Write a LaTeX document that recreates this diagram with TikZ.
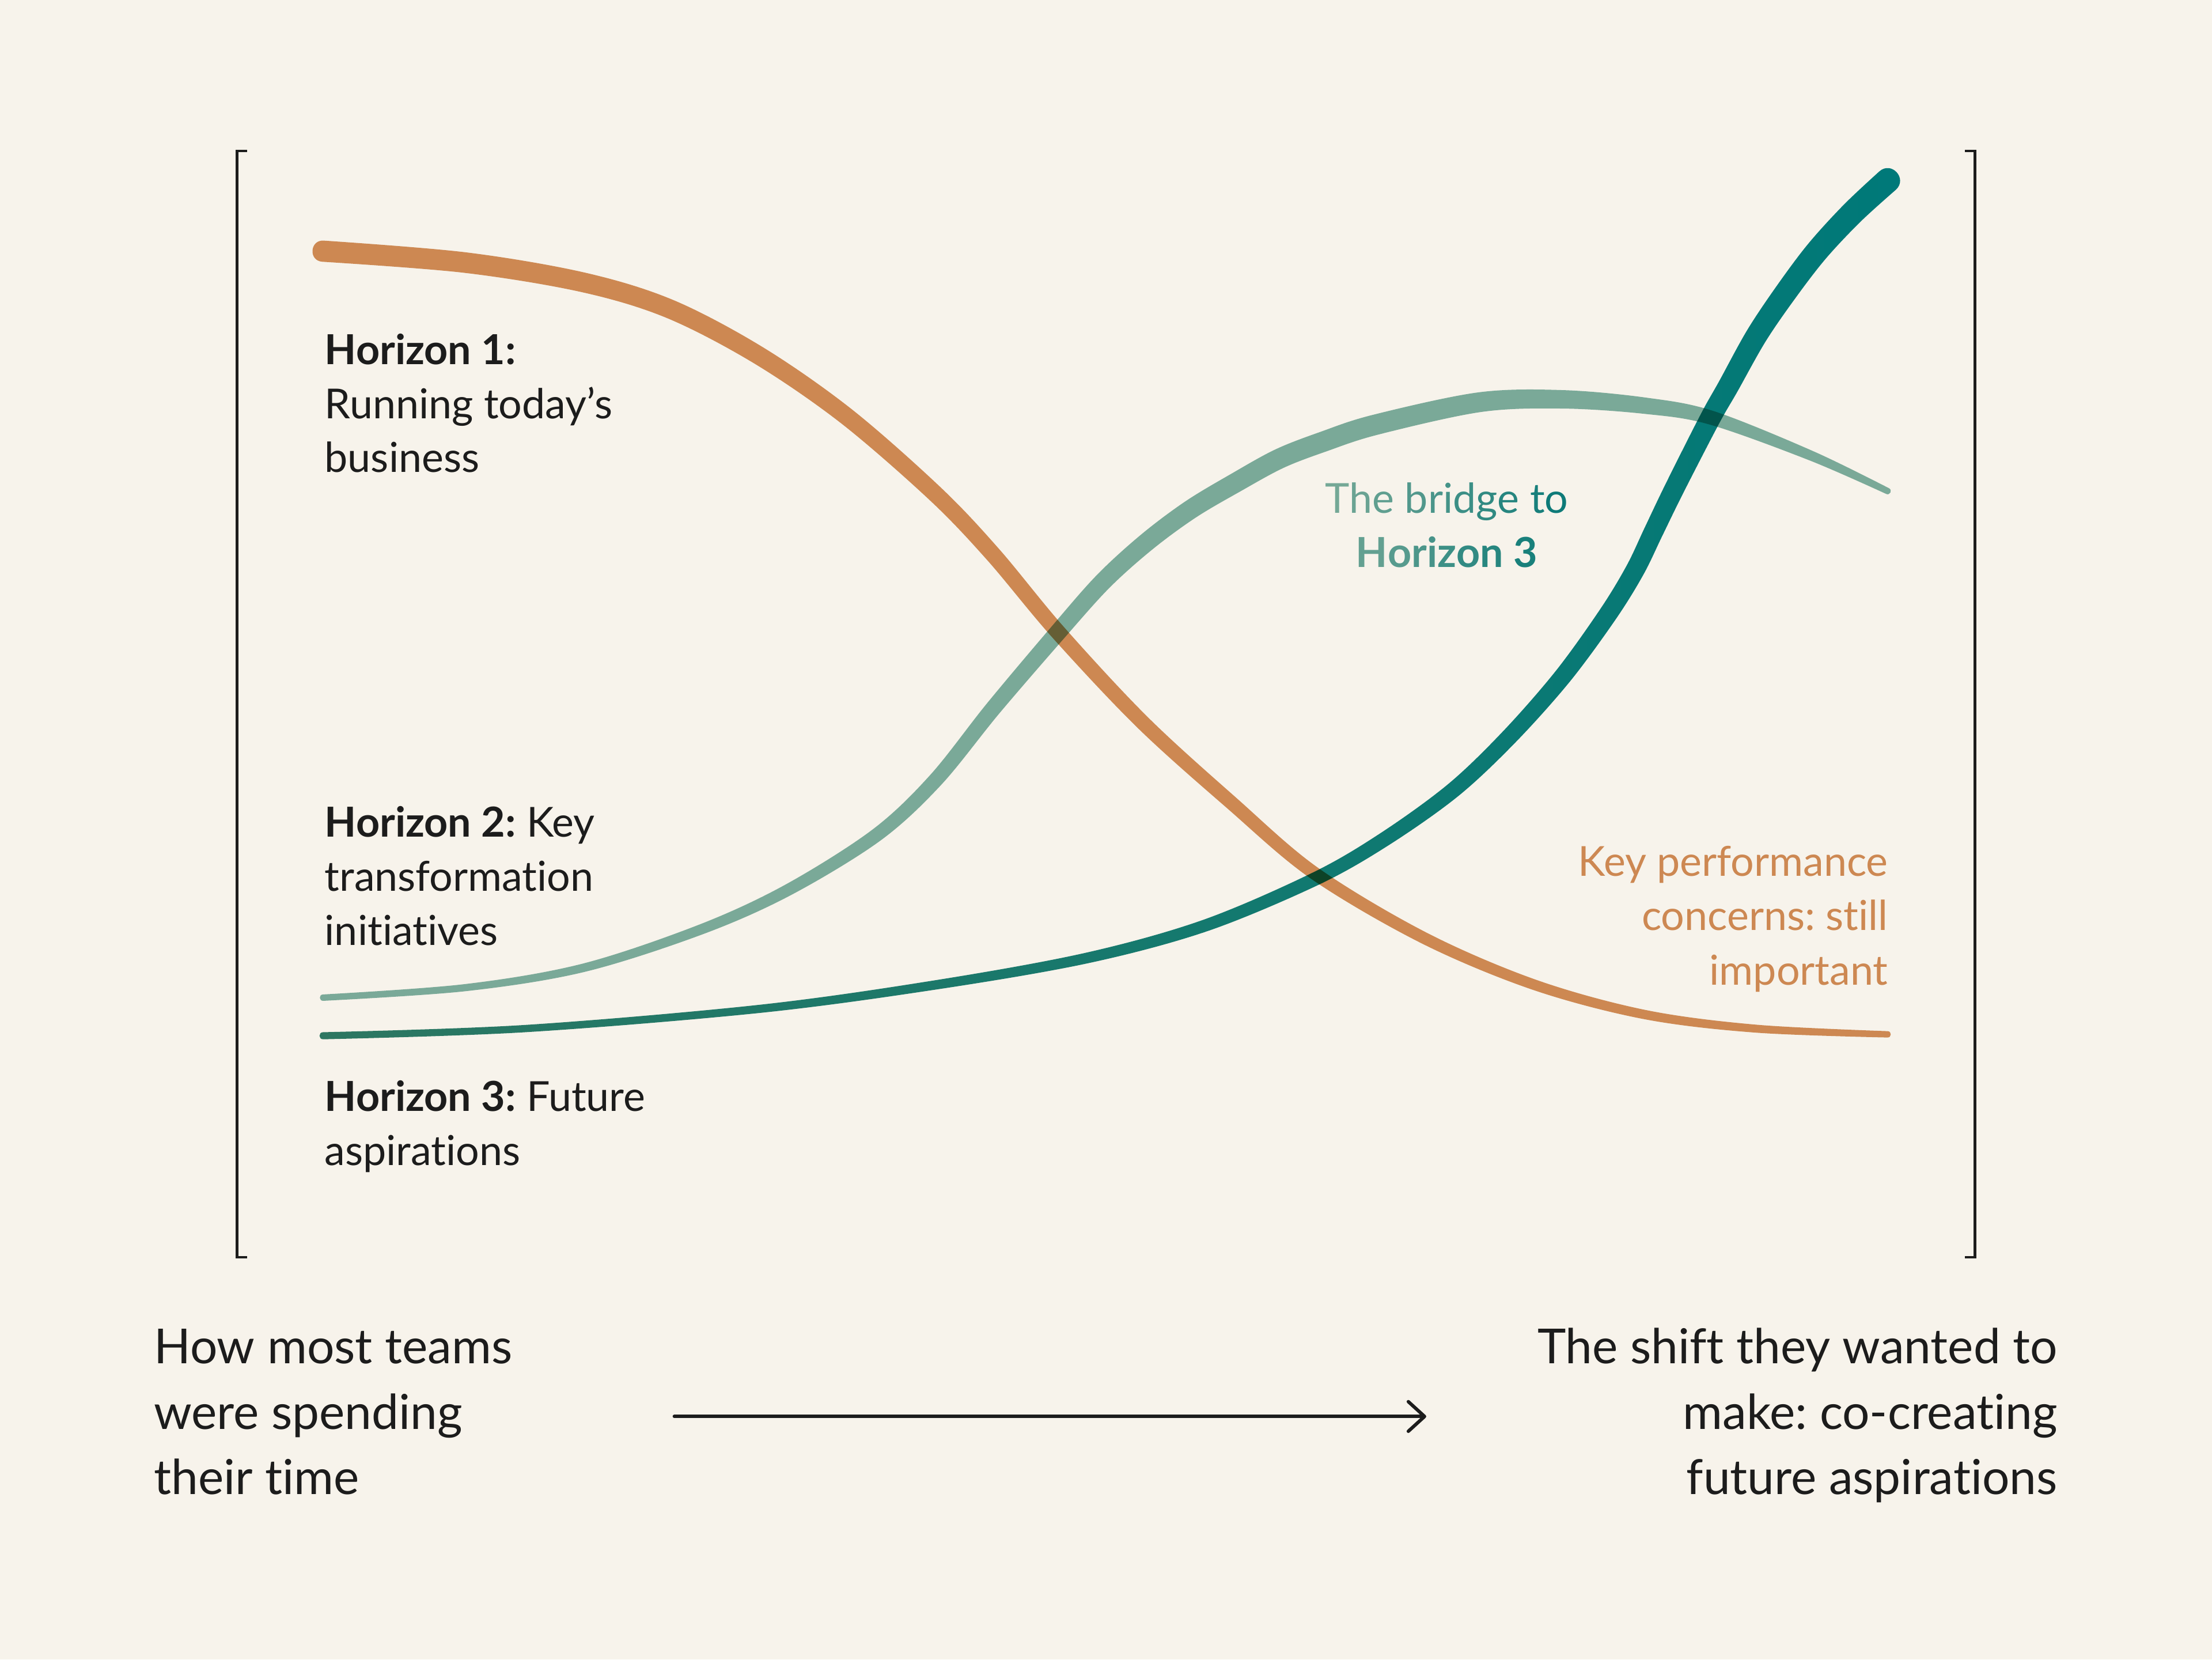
\documentclass[tikz,border=0pt]{standalone}
\usepackage{fontspec}
\setmainfont{Lato}[Ligatures=NoCommon]
\frenchspacing
\usetikzlibrary{arrows.meta,calc}
\definecolor{bg}{RGB}{247,243,235}
\definecolor{ink}{RGB}{28,28,28}
\definecolor{orangeC}{RGB}{212,143,89}
\definecolor{orangeT}{RGB}{205,136,82}
\definecolor{tealLt}{RGB}{126,178,165}
\definecolor{tealLtT}{RGB}{122,170,152}
\definecolor{tealL}{RGB}{47,125,106}
\definecolor{tealR}{RGB}{0,128,132}
\definecolor{tealTx}{RGB}{8,120,118}
\def\orangeL{229/178, 329/186, 413/200, 475/219, 538/252, 600/295, 663/350, 704/393, 750/448, 810/512, 873/569, 932/619, 1010/665, 1088/698, 1166/719, 1245/729, 1338/733}
\def\bridgeL{229/707, 329/700, 413/686, 496/659, 558/631, 621/592, 663/553, 704/502, 750/448, 782/412, 813/384, 844/361, 876/342, 907/325, 938/313, 975/301, 1049/285, 1108/283, 1166/287.5, 1213/296, 1284/323, 1338/348}
\def\futureL{229/734, 371/729, 538/715, 663/698, 770/679, 854/656, 932/623, 981/595, 1030/560, 1070/522, 1108/479, 1140/435, 1159/404, 1172/377, 1187/346, 1212/297, 1225/274, 1245/238, 1266/207, 1288/178, 1313/151, 1338/128}
% tapered band with round ends: #1 path options, #2 point list, #3 prefix, #4 width formula in \tp
\newcommand\taperfill[4]{%
  \foreach \px/\py [count=\k] in #2 {
    \coordinate (#3p\k) at (\px,\py);
    \pgfmathsetmacro\tp{max(0.001,min(1,(\px-229)/1109))}
    \pgfmathsetmacro\tfhw{(#4)/2}
    \expandafter\xdef\csname tf#3hw\k\endcsname{\tfhw}
    \xdef\tfnpts{\k}
  }
  \gdef\tfulist{}\gdef\tfllist{}
  \foreach \k in {1,...,\tfnpts} {
    \pgfmathtruncatemacro\tfpv{max(\k-1,1)}
    \pgfmathtruncatemacro\tfnx{min(\k+1,\tfnpts)}
    \edef\tfhwk{\csname tf#3hw\k\endcsname}
    \coordinate (#3d\k) at ($(#3p\k)+(#3p\tfnx)-(#3p\tfpv)$);
    \coordinate (#3u\k) at ($(#3p\k)!\tfhwk pt!90:(#3d\k)$);
    \coordinate (#3l\k) at ($(#3p\k)!\tfhwk pt!-90:(#3d\k)$);
    \xdef\tfulist{\tfulist (#3u\k)}
    \xdef\tfllist{(#3l\k) \tfllist}
  }
  \edef\tfhwN{\csname tf#3hw\tfnpts\endcsname}
  \edef\tfhwA{\csname tf#3hw1\endcsname}
  \pgfmathsetmacro\tfcE{1.3333*\tfhwN}
  \pgfmathsetmacro\tfcS{1.3333*\tfhwA}
  \coordinate (#3tv) at ($(#3p\tfnpts)!\tfcE pt!(#3d\tfnpts)$);
  \coordinate (#3ec1) at ($(#3u\tfnpts)+(#3tv)-(#3p\tfnpts)$);
  \coordinate (#3ec2) at ($(#3l\tfnpts)+(#3tv)-(#3p\tfnpts)$);
  \coordinate (#3sv) at ($(#3p1)!-\tfcS pt!(#3p2)$);
  \coordinate (#3sc1) at ($(#3u1)+(#3sv)-(#3p1)$);
  \coordinate (#3sc2) at ($(#3l1)+(#3sv)-(#3p1)$);
  \edef\tfcmd{\noexpand\path[#1] plot[smooth,tension=0.55] coordinates {\tfulist} .. controls (#3ec1) and (#3ec2) .. (#3l\tfnpts) -- plot[smooth,tension=0.55] coordinates {\tfllist} .. controls (#3sc2) and (#3sc1) .. (#3u1) -- cycle;}%
  \tfcmd
}
\newcommand\gc[2]{\textcolor{tealTx!#1!tealLtT}{#2}}
\begin{document}
\begin{tikzpicture}[x=1pt,y=-1pt,
  lbl/.style={inner sep=0pt, font=\fontsize{29.3}{38.5}\selectfont, text=ink},
  big/.style={inner sep=0pt, font=\fontsize{34.2}{46}\selectfont, text=ink},
  bracket/.style={draw=ink, line width=1.9pt, line cap=butt, line join=miter},
  band/.style={blend mode=multiply},
  arrowline/.style={draw=ink, line width=2.4pt, line cap=round,
    -{Straight Barb[length=11.5pt, width=21pt, line join=round, line cap=round]}}]
\fill[bg] (0,0) rectangle (1568,1176);
\useasboundingbox (0,0) rectangle (1568,1176);

% brackets
\draw[bracket] (175,107) -- (168,107) -- (168,891) -- (175,891);
\draw[bracket] (1393,107) -- (1400,107) -- (1400,891) -- (1393,891);

% the three horizon curves, tapering
\taperfill{band, fill=orangeC}{\orangeL}{o}{15-10.5*(\tp)^1.3}
\taperfill{band, fill=tealLt}{\bridgeL}{b}{4.5+10*sin(180*(\tp)^1.7)}
\taperfill{band, left color=tealL, right color=tealR}{\futureL}{f}{5+12.5*(\tp)^2.2}

% left labels
\node[lbl, anchor=base west] (h1a) at (230,258.2) {\textbf{Horizon 1:}};
\node[lbl, anchor=base west] (h1b) at (230,296.5) {Running today’s};
\node[lbl, anchor=base west] (h1c) at (230,334.7) {business};
\node[lbl, anchor=base west] (h2a) at (230,593) {\textbf{Horizon 2:} Key};
\node[lbl, anchor=base west] (h2b) at (230,631.3) {transformation};
\node[lbl, anchor=base west] (h2c) at (230,670) {initiatives};
\node[lbl, anchor=base west] (h3a) at (230,787.5) {\textbf{Horizon 3:} Future};
\node[lbl, anchor=base west] (h3b) at (230,826) {aspirations};

% bridge label
\node[lbl, anchor=base] (br1) at (1025.5,363.8) {\gc{5}{T}\gc{14}{h}\gc{23}{e} \gc{35}{b}\gc{42}{r}\gc{47}{i}\gc{54}{d}\gc{64}{g}\gc{74}{e} \gc{86}{t}\gc{95}{o}};
\node[lbl, anchor=base] (br2) at (1025.5,402.1) {\bfseries\gc{20}{H}\gc{31}{o}\gc{40}{r}\gc{45}{i}\gc{53}{z}\gc{63}{o}\gc{73}{n} \gc{85}{3}};

% key performance label
\node[lbl, anchor=base east, text=orangeT] (kp1) at (1338.5,620.9) {Key performance};
\node[lbl, anchor=base east, text=orangeT] (kp2) at (1338.5,659.2) {concerns: still};
\node[lbl, anchor=base east, text=orangeT] (kp3) at (1338.5,698) {important};

% bottom texts
\node[big, anchor=base west] (l1) at (109,966.4) {How most teams};
\node[big, anchor=base west] (l2) at (109,1012.7) {were spending};
\node[big, anchor=base west] (l3) at (109,1058.9) {their time};
\node[big, anchor=base east] (r1) at (1458.5,966.4) {The shift they wanted to};
\node[big, anchor=base east] (r2) at (1458.5,1012.7) {make: co-creating};
\node[big, anchor=base east] (r3) at (1458.5,1058.9) {future aspirations};

% arrow
\coordinate (arrS) at (478,1003.8);
\coordinate (arrE) at (1011,1003.8);
\draw[arrowline] (arrS) -- (arrE);
\end{tikzpicture}
\end{document}
